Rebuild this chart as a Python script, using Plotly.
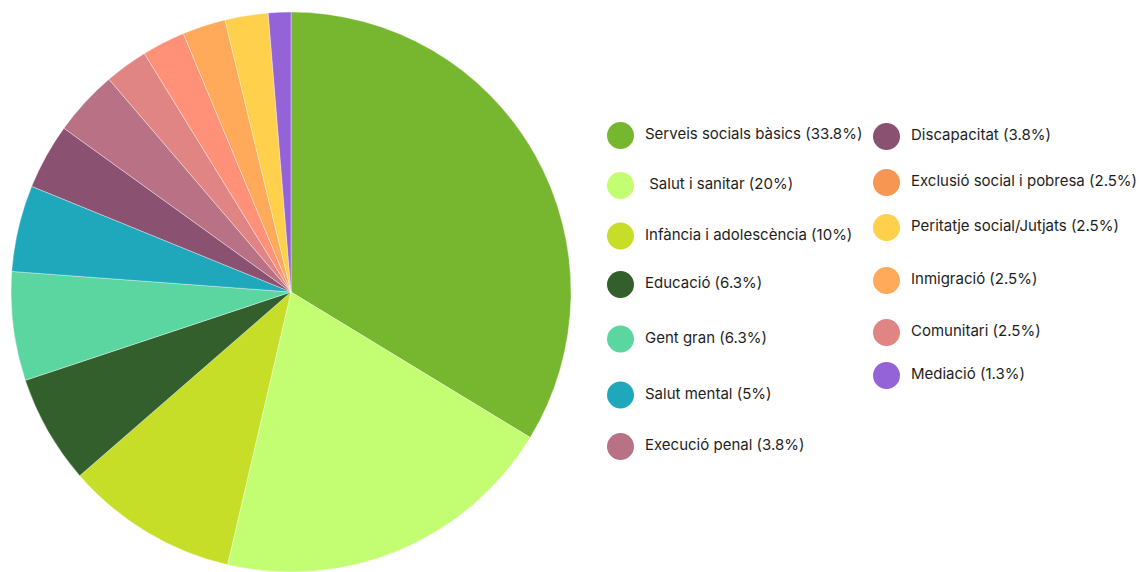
import plotly.graph_objects as go

# Àmbits d'intervenció i percentatge de cada un
categories = [
    "Serveis socials bàsics", "Salut i sanitar", "Infància i adolescència",
    "Educació", "Gent gran", "Salut mental", "Discapacitat", "Execució penal",
    "Comunitari", "Exclusió social i pobresa", "Inmigració",
    "Peritatje social/Jutjats", "Mediació",
]
values = [33.8, 20, 10, 6.3, 6.3, 5, 3.8, 3.8, 2.5, 2.5, 2.5, 2.5, 1.3]
colors = [
    "#76b72f", "#c2fd72", "#c7de28", "#335f2d", "#5bd6a0", "#1fa8bc",
    "#8a5170", "#b97285", "#e08484", "#ff9178", "#ffa95a", "#ffd04c",
    "#9563d8",
]

# Ordre i textos de la llegenda (dues columnes)
legend_col1 = [
    ("Serveis socials bàsics (33.8%)", "#76b72f"),
    (" Salut i sanitar (20%)", "#c2fd72"),
    ("Infància i adolescència (10%)", "#c7de28"),
    ("Educació (6.3%)", "#335f2d"),
    ("Gent gran (6.3%)", "#5bd6a0"),
    ("Salut mental (5%)", "#1fa8bc"),
    ("Execució penal (3.8%)", "#b97285"),
]
legend_col2 = [
    ("Discapacitat (3.8%)", "#8a5170"),
    ("Exclusió social i pobresa (2.5%)", "#f79552"),
    ("Peritatje social/Jutjats (2.5%)", "#ffd04c"),
    ("Inmigració (2.5%)", "#ffa95a"),
    ("Comunitari (2.5%)", "#e08484"),
    ("Mediació (1.3%)", "#9563d8"),
]

W, H = 1140, 572
col1_rows = [135.5, 185.5, 236, 284.5, 339, 395, 446.5]
col2_rows = [136.5, 182.5, 227.5, 280.5, 332.5, 375.5]
col1_x, col2_x = 620.5, 886.5
dot_r = 13.5
text_gap = 22

fig = go.Figure(
    go.Pie(
        labels=categories,
        values=values,
        marker=dict(colors=colors, line=dict(color="rgba(255,255,255,0.6)", width=0.6)),
        sort=False,
        direction="clockwise",
        rotation=0,
        textinfo="none",
        hoverinfo="label+percent",
        showlegend=False,
        domain=dict(x=[9 / W, 573 / W], y=[0, 1 - 12 / H]),
    )
)

shapes, annotations = [], []
for cx, rows, items in ((col1_x, col1_rows, legend_col1), (col2_x, col2_rows, legend_col2)):
    for cy, (label, col) in zip(rows, items):
        shapes.append(dict(
            type="circle", xref="paper", yref="paper",
            x0=(cx - dot_r) / W, x1=(cx + dot_r) / W,
            y0=1 - (cy + dot_r) / H, y1=1 - (cy - dot_r) / H,
            fillcolor=col, line=dict(width=0),
        ))
        annotations.append(dict(
            xref="paper", yref="paper", x=(cx + text_gap) / W, y=1 - (cy - 2) / H,
            xanchor="left", yanchor="middle", showarrow=False,
            text=label.replace(" ", "&nbsp;", 1) if label.startswith(" ") else label,
            font=dict(family="Inter", size=15, color="#1e1e1e"),
        ))

fig.update_layout(
    width=W, height=H,
    margin=dict(l=0, r=0, t=0, b=0),
    paper_bgcolor="white", plot_bgcolor="white",
    shapes=shapes, annotations=annotations,
)

fig.write_html("out.html")
